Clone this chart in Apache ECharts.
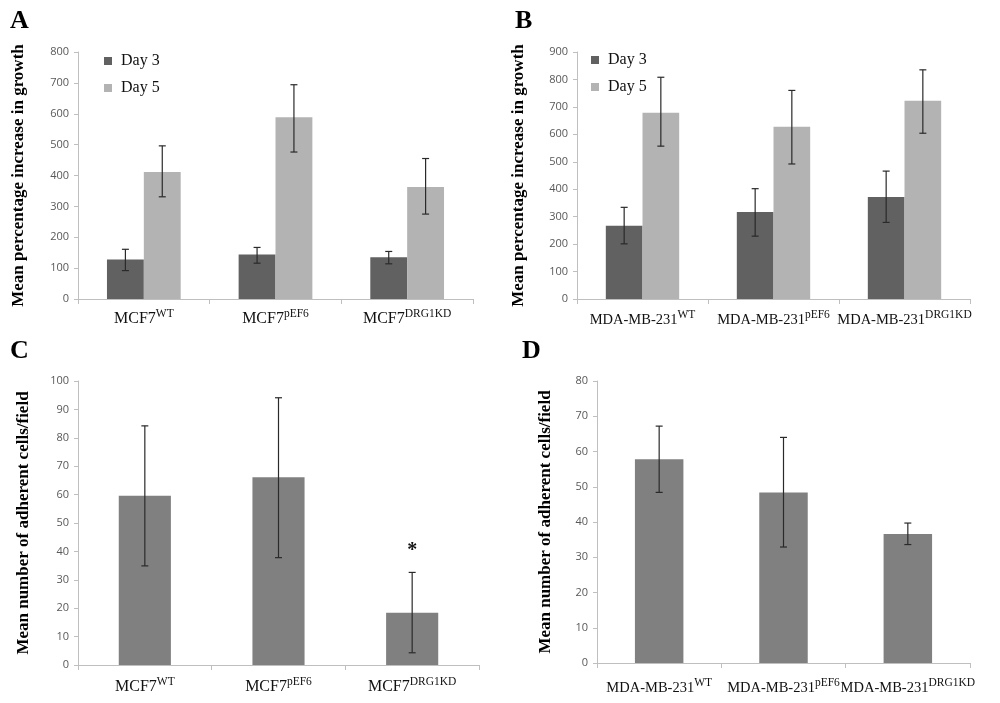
<!DOCTYPE html>
<html>
<head>
	<meta charset="utf-8">
	<title>DRG1 growth and adhesion</title>
	<script type="text/javascript" src="https://cdn.jsdelivr.net/npm/echarts@6/dist/echarts.min.js"></script>
	<style type="text/css">
		html, body { margin: 0; padding: 0; background: #fff; }
		#chart { width: 1000px; height: 703px; }
	</style>
</head>
<body>
	<div id="chart"></div>
<script type="text/javascript">
	// categories, base^superscript
	var catsMCF = ['MCF7^WT', 'MCF7^pEF6', 'MCF7^DRG1KD'];
	var catsMDA = ['MDA-MB-231^WT', 'MDA-MB-231^pEF6', 'MDA-MB-231^DRG1KD'];

	// A: MCF7 growth
	var day3A = [128, 144, 135];
	var day3A_lo = [92, 116, 114];
	var day3A_hi = [161, 167, 154];
	var day5A = [411, 589, 363];
	var day5A_lo = [331, 476, 275];
	var day5A_hi = [496, 694, 455];

	// B: MDA-MB-231 growth
	var day3B = [267, 317, 372];
	var day3B_lo = [201, 229, 279];
	var day3B_hi = [334, 402, 466];
	var day5B = [679, 628, 722];
	var day5B_lo = [557, 492, 604];
	var day5B_hi = [808, 760, 835];

	// C: MCF7 adhesion
	var adhC = [59.6, 66.1, 18.4];
	var adhC_lo = [34.9, 37.8, 4.3];
	var adhC_hi = [84.2, 94.1, 32.6];
	var sigC = ['', '', '*'];

	// D: MDA-MB-231 adhesion
	var adhD = [57.8, 48.4, 36.6];
	var adhD_lo = [48.4, 32.9, 33.6];
	var adhD_hi = [67.2, 64.0, 39.7];

	var serif = '"Liberation Serif", "Times New Roman", serif';
	var sans = '"Open Sans", sans-serif';
	var axisGrey = '#bfbfbf';

	function xAxisFor(gi, cats, margin, raise, size, supSize) {
		return {
			type: 'category', gridIndex: gi, data: cats,
			axisLine: { lineStyle: { color: axisGrey, width: 1 } },
			axisTick: { show: true, length: 5, lineStyle: { color: axisGrey } },
			axisLabel: {
				margin: margin, interval: 0, hideOverlap: false,
				formatter: function (v) {
					var p = v.split('^');
					return '{b|' + p[0] + '}{s|' + p[1] + '}';
				},
				rich: {
					b: { fontFamily: serif, fontSize: size, color: '#111', lineHeight: 22, verticalAlign: 'middle' },
					s: { fontFamily: serif, fontSize: supSize, color: '#111', lineHeight: 22 - 2 * raise, verticalAlign: 'top' }
				}
			}
		};
	}

	function yAxisFor(gi, max, step, name, gap) {
		return {
			type: 'value', gridIndex: gi, min: 0, max: max, interval: step,
			name: name, nameLocation: 'middle', nameRotate: 90, nameGap: gap,
			nameTextStyle: { fontFamily: serif, fontWeight: 'bold', fontSize: 17, color: '#000' },
			axisLine: { show: true, lineStyle: { color: axisGrey } },
			axisTick: { show: true, length: 4, lineStyle: { color: axisGrey } },
			axisLabel: { fontFamily: sans, fontSize: 11, color: '#595959', margin: 9 },
			splitLine: { show: false }
		};
	}

	function barSeries(name, gi, data, color, width) {
		return {
			name: name, type: 'bar', xAxisIndex: gi, yAxisIndex: gi,
			data: data, barWidth: width, barGap: '0%',
			itemStyle: { color: color },
			emphasis: { disabled: true }
		};
	}

	// error bars drawn with custom series; offset is in band fractions
	function errSeries(gi, lo, hi, offset, marks) {
		return {
			type: 'custom', xAxisIndex: gi, yAxisIndex: gi, z: 5,
			data: lo.map(function (l, i) { return [i, l, hi[i]]; }),
			encode: { x: 0, y: [1, 2] },
			renderItem: function (params, api) {
				var band = api.size([1, 0])[0];
				var top = api.coord([api.value(0), api.value(2)]);
				var bot = api.coord([api.value(0), api.value(1)]);
				var x = top[0] + offset * band;
				var c = 3.5;
				var st = { stroke: '#2a2a2a', lineWidth: 1.2 };
				var kids = [
					{ type: 'line', shape: { x1: x, y1: top[1], x2: x, y2: bot[1] }, style: st },
					{ type: 'line', shape: { x1: x - c, y1: top[1], x2: x + c, y2: top[1] }, style: st },
					{ type: 'line', shape: { x1: x - c, y1: bot[1], x2: x + c, y2: bot[1] }, style: st }
				];
				if (marks && marks[params.dataIndex]) {
					kids.push({ type: 'text', x: x, y: top[1] - 22,
						style: { text: marks[params.dataIndex], fontFamily: serif, fontWeight: 'bold', fontSize: 20, fill: '#111', align: 'center', verticalAlign: 'middle' } });
				}
				return { type: 'group', children: kids };
			}
		};
	}

	var growthName = 'Mean percentage increase in growth';
	var adhName = 'Mean number of adherent cells/field';
	var letterStyle = { fontFamily: serif, fontWeight: 'bold', fontSize: 26, color: '#000' };
	var legendText = { fontFamily: serif, fontSize: 16, color: '#111', padding: [0, 0, 0, 4] };

	var option = {
		animation: false,
		title: [
			{ text: 'A', left: 5, top: 3, textStyle: letterStyle },
			{ text: 'B', left: 510, top: 3, textStyle: letterStyle },
			{ text: 'C', left: 5, top: 333, textStyle: letterStyle },
			{ text: 'D', left: 517, top: 333, textStyle: letterStyle }
		],
		legend: [
			{ data: ['Day 3', 'Day 5'], orient: 'vertical', left: 99, top: 48, itemWidth: 8, itemHeight: 8, itemGap: 11,
				icon: 'rect', selectedMode: false, textStyle: legendText },
			{ data: ['Day 3', 'Day 5'], orient: 'vertical', left: 586, top: 47, itemWidth: 8, itemHeight: 8, itemGap: 11,
				icon: 'rect', selectedMode: false, textStyle: legendText }
		],
		grid: [
			{ left: 78, top: 52, width: 395, height: 247 },
			{ left: 577, top: 52, width: 393, height: 247 },
			{ left: 78, top: 381, width: 401, height: 284 },
			{ left: 597, top: 381, width: 373, height: 282 }
		],
		xAxis: [
			xAxisFor(0, catsMCF, 9, 5, 16, 11.5),
			xAxisFor(1, catsMDA, 10, 7, 14.5, 11.5),
			xAxisFor(2, catsMCF, 11, 5, 16, 11.5),
			xAxisFor(3, catsMDA, 14, 7, 14.5, 11.5)
		],
		yAxis: [
			yAxisFor(0, 800, 100, growthName, 51),
			yAxisFor(1, 900, 100, growthName, 50),
			yAxisFor(2, 100, 10, adhName, 46),
			yAxisFor(3, 80, 10, adhName, 43)
		],
		series: [
			barSeries('Day 3', 0, day3A, '#616161', '28%'),
			barSeries('Day 5', 0, day5A, '#b3b3b3', '28%'),
			barSeries('Day 3', 1, day3B, '#616161', '28%'),
			barSeries('Day 5', 1, day5B, '#b3b3b3', '28%'),
			barSeries('Adhesion MCF7', 2, adhC, '#808080', '39%'),
			barSeries('Adhesion MDA', 3, adhD, '#808080', '39%'),
			errSeries(0, day3A_lo, day3A_hi, -0.14),
			errSeries(0, day5A_lo, day5A_hi, 0.14),
			errSeries(1, day3B_lo, day3B_hi, -0.14),
			errSeries(1, day5B_lo, day5B_hi, 0.14),
			errSeries(2, adhC_lo, adhC_hi, 0, sigC),
			errSeries(3, adhD_lo, adhD_hi, 0)
		]
	};

	var myChart = echarts.init(document.getElementById('chart'));
	myChart.setOption(option);
</script>
</body>
</html>
